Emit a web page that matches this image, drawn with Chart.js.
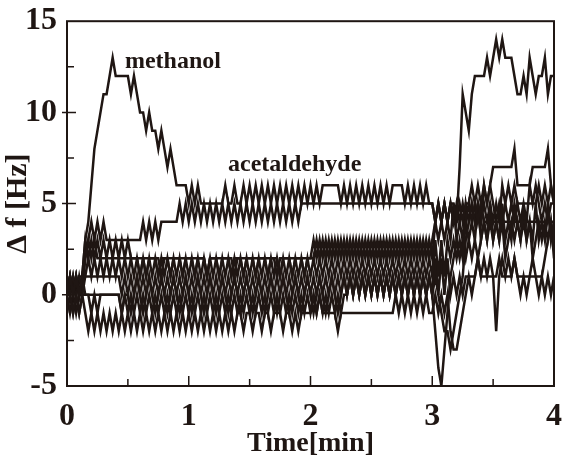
<!DOCTYPE html>
<html>
<head>
<meta charset="utf-8">
<script src="https://cdn.jsdelivr.net/npm/chart.js@4.4.1/dist/chart.umd.min.js"></script>
<style>
  html, body { margin: 0; padding: 0; background: #fff; }
  #wrap { width: 566px; height: 467px; }
</style>
</head>
<body>
<div id="wrap"><canvas id="sensorChart" width="566" height="467"></canvas></div>
<script>
// sampling times [min]
const sampleTimes = [
  0, 0.025, 0.05, 0.075, 0.1, 0.125, 0.15, 0.175, 0.2, 0.225, 0.25, 0.275, 0.3, 0.325, 0.35, 0.375, 0.4, 0.425, 0.45, 0.475,
  0.5, 0.525, 0.55, 0.575, 0.6, 0.625, 0.65, 0.675, 0.7, 0.725, 0.75, 0.775, 0.8, 0.825, 0.85, 0.875, 0.9, 0.925, 0.95, 0.975,
  1, 1.025, 1.05, 1.075, 1.1, 1.125, 1.15, 1.175, 1.2, 1.225, 1.25, 1.275, 1.3, 1.325, 1.35, 1.375, 1.4, 1.425, 1.45, 1.475,
  1.5, 1.525, 1.55, 1.575, 1.6, 1.625, 1.65, 1.675, 1.7, 1.725, 1.75, 1.775, 1.8, 1.825, 1.85, 1.875, 1.9, 1.925, 1.95, 1.975,
  2, 2.025, 2.05, 2.075, 2.1, 2.125, 2.15, 2.175, 2.2, 2.225, 2.25, 2.275, 2.3, 2.325, 2.35, 2.375, 2.4, 2.425, 2.45, 2.475,
  2.5, 2.525, 2.55, 2.575, 2.6, 2.625, 2.65, 2.675, 2.7, 2.725, 2.75, 2.775, 2.8, 2.825, 2.85, 2.875, 2.9, 2.925, 2.95, 2.975,
  3, 3.025, 3.05, 3.075, 3.1, 3.125, 3.15, 3.175, 3.2, 3.225, 3.25, 3.275, 3.3, 3.325, 3.35, 3.375, 3.4, 3.425, 3.45, 3.475,
  3.5, 3.525, 3.55, 3.575, 3.6, 3.625, 3.65, 3.675, 3.7, 3.725, 3.75, 3.775, 3.8, 3.825, 3.85, 3.875, 3.9, 3.925, 3.95, 3.975,
  4
];

// delta f [Hz] per sensor, one value per sample time
const methanol = [
  0, 1, 0, 1, 0, 1, 3, 4, 6, 8, 9, 10, 11, 11, 12, 13, 12, 12, 12, 12,
  12, 11, 12, 11, 10, 10, 9, 10, 9, 9, 8, 9, 8, 7, 8, 7, 6, 6, 6, 6,
  5, 6, 5, 6, 5, 5, 5, 5, 5, 5, 5, 5, 6, 5, 5, 6, 5, 5, 6, 5,
  6, 5, 6, 5, 6, 5, 6, 5, 6, 5, 6, 5, 6, 5, 6, 5, 6, 5, 6, 5,
  6, 5, 6, 5, 6, 6, 6, 6, 6, 6, 5, 6, 5, 6, 5, 6, 5, 6, 5, 6,
  5, 6, 5, 6, 5, 6, 5, 6, 6, 6, 6, 5, 6, 5, 6, 5, 6, 5, 6, 5,
  5, 4, 5, 4, 5, 4, 5, 4, 4, 7, 11, 10, 9, 11, 12, 12, 12, 12, 13, 12,
  13, 14, 13, 14, 13, 13, 13, 12, 11, 11, 12, 11, 13, 12, 11, 12, 12, 13, 11, 12,
  12
];
const acetaldehyde = [
  0, 0, -1, 0, -1, 0, 2, 3, 4, 3, 4, 3, 4, 3, 3, 3, 3, 3, 3, 3,
  3, 3, 3, 3, 3, 4, 3, 4, 3, 4, 3, 4, 4, 4, 4, 4, 4, 5, 4, 5,
  4, 5, 4, 5, 4, 5, 4, 5, 4, 5, 4, 5, 4, 5, 4, 5, 4, 5, 4, 5,
  4, 5, 4, 5, 4, 5, 4, 5, 4, 5, 4, 5, 4, 5, 4, 5, 4, 5, 5, 5,
  5, 5, 5, 5, 5, 5, 5, 5, 5, 5, 5, 5, 5, 5, 5, 5, 5, 5, 5, 5,
  5, 5, 5, 5, 5, 5, 5, 5, 5, 5, 5, 5, 5, 5, 5, 5, 5, 5, 5, 5,
  5, 4, 5, 4, 5, 4, 5, 5, 4, 5, 4, 5, 5, 6, 5, 6, 5, 6, 5, 6,
  7, 7, 7, 7, 7, 7, 7, 8, 6, 6, 6, 6, 6, 7, 7, 7, 7, 7, 8, 6,
  5
];
const sensor3 = [
  0, 1, 0, 1, 0, 1, 2, 3, 2, 3, 2, 2, 2, 2, 2, 2, 2, 2, 2, 2,
  2, 2, 2, 2, 1, 2, 2, 2, 2, 2, 2, 1, 2, 2, 2, 2, 2, 2, 2, 2,
  2, 2, 2, 2, 2, 2, 1, 2, 2, 2, 2, 2, 2, 2, 2, 1, 2, 2, 2, 2,
  2, 2, 2, 2, 2, 2, 2, 2, 2, 1, 2, 2, 2, 2, 2, 2, 2, 2, 2, 2,
  2, 2, 3, 2, 3, 2, 3, 2, 3, 2, 3, 2, 3, 2, 3, 2, 3, 2, 3, 2,
  3, 2, 3, 2, 3, 2, 3, 2, 3, 2, 3, 2, 3, 2, 3, 2, 3, 2, 3, 2,
  3, 4, 5, 4, 5, 4, 5, 4, 5, 4, 5, 4, 5, 4, 5, 4, 5, 4, 4, 4,
  4, 4, 4, 4, 4, 4, 4, 4, 4, 4, 4, 4, 4, 4, 4, 4, 4, 4, 4, 4,
  4
];
const sensor4 = [
  1, 0, 1, 0, 1, 0, 1, 2, 1, 2, 1, 2, 1, 2, 1, 2, 1, 2, 1, 2,
  1, 2, 1, 2, 1, 2, 1, 2, 1, 2, 1, 2, 1, 2, 1, 2, 1, 2, 1, 2,
  1, 2, 1, 2, 1, 2, 1, 2, 1, 2, 1, 2, 1, 2, 1, 2, 1, 2, 1, 2,
  1, 2, 1, 2, 1, 2, 1, 2, 1, 2, 1, 2, 1, 2, 1, 2, 1, 2, 1, 2,
  1, 2, 1, 2, 1, 2, 1, 2, 1, 2, 1, 2, 1, 2, 1, 2, 1, 2, 1, 2,
  1, 2, 1, 2, 1, 2, 1, 2, 1, 2, 1, 2, 1, 2, 1, 2, 1, 2, 1, 2,
  1, 3, 1, 3, 1, 3, 2, 3, 2, 3, 2, 4, 3, 4, 3, 5, 3, 4, 3, 5,
  3, 4, 3, 5, 3, 4, 3, 5, 4, 3, 5, 3, 4, 3, 5, 3, 4, 3, 5, 3,
  4
];
const sensor5 = [
  1, 0, 1, 0, 1, 1, 1, 1, 1, 1, 1, 1, 1, 1, 1, 1, 1, 1, 0, 1,
  0, 1, 0, 1, 0, 1, 0, 1, 0, 1, 0, 1, 0, 1, 0, 1, 0, 1, 0, 1,
  0, 1, 0, 1, 0, 1, 0, 1, 0, 1, 0, 1, 0, 1, 0, 1, 0, 1, 0, 1,
  0, 1, 0, 1, 0, 1, 0, 1, 0, 1, 0, 1, 0, 1, 0, 1, 0, 1, 0, 1,
  0, 1, 0, 1, 0, 1, 0, 1, 0, 1, 0, 1, 0, 1, 0, 1, 0, 1, 0, 1,
  0, 1, 0, 1, 0, 1, 0, 1, 0, 1, 0, 1, 0, 1, 0, 1, 0, 1, 0, 1,
  0, 2, 0, 2, 0, 2, 0, 1, 0, 1, 0, 1, 1, 1, 1, 2, 1, 1, 1, 1,
  1, 1, 2, 1, 1, 1, 1, 2, 1, 1, 1, 1, 1, 1, 1, 1, 1, 2, 3, 4,
  2
];
const sensor6 = [
  0, -1, 0, -1, 0, 0, 0, 0, 0, 0, 0, 0, 0, 0, 0, 0, 0, 0, -1, 0,
  -1, 0, -1, 0, -1, 0, -1, 0, -1, 0, -1, 0, -1, 0, -1, 0, -1, 0, -1, 0,
  -1, 0, -1, 0, -1, 0, -1, 0, -1, 0, -1, 0, -1, 0, -1, 0, -1, 0, -1, 0,
  -1, 0, -1, 0, -1, 0, -1, 0, -1, 0, -1, 0, -1, 0, -1, 0, -1, 0, -1, 0,
  -1, 0, -1, 0, -1, 0, -1, 0, -1, 0, -1, 0, 0, 1, 0, 1, 0, 1, 0, 1,
  0, 1, 0, 1, 0, 1, 0, 1, 0, 1, 0, 1, 0, 1, 0, 1, 0, 1, 0, 1,
  0, -2, -4, -5, -3, -1, 1, 2, 3, 2, 3, 2, 3, 2, 3, 2, 3, 4, 3, 4,
  3, 4, 3, 4, 2, 3, 4, 3, 4, 3, 4, 3, 4, 2, 3, 4, 3, 4, 3, 4,
  3
];
const sensor7 = [
  -1, 0, -1, 0, -1, 0, -1, -2, -1, -2, -1, -2, -1, -2, -1, -2, -1, -2, -1, -2,
  -1, -2, -1, -2, -1, -2, -1, -2, -1, -2, -1, -2, -1, -2, -1, -2, -1, -2, -1, -2,
  -1, -2, -1, -2, -1, -2, -1, -2, -1, -2, -1, -2, -1, -2, -1, -2, -1, -1, -2, -1,
  -1, -2, -1, -1, -2, -1, -1, -2, -1, -1, -1, -2, -1, -1, -2, -1, -2, -1, -1, -1,
  -1, 0, -1, 0, -1, -1, -1, -1, -1, -2, -1, -1, -1, -1, -1, -1, -1, -1, -1, -1,
  -1, -1, -1, -1, -1, -1, -1, -1, 0, -1, 0, -1, 0, -1, 0, -1, 0, -1, 0, -1,
  -1, 0, -1, 0, -1, 0, -2, -3, -3, -2, -1, 0, 1, 0, 1, 2, 1, 2, 1, 2,
  1, -2, 1, 2, 1, 2, 1, 2, 1, 0, 1, 0, 1, 2, 1, 0, 1, 0, 1, 0,
  1
];
const sensor8 = [
  0, 1, 0, 1, 0, 1, 0, 0, -1, 0, -1, 0, 0, 0, 0, 0, 0, 0, -1, 0,
  0, -1, 0, 1, 0, -1, 0, 1, 0, -1, 0, 1, 0, -1, 0, 1, 0, -1, 0, 1,
  0, -1, 0, 1, 0, -1, 0, 1, 0, -1, 0, 1, 0, -1, 0, 1, 0, -1, 0, 1,
  0, -1, 0, 1, 0, -1, 0, 1, 0, -1, 0, 1, 0, -1, 0, 1, 0, -1, 0, 1,
  0, -1, 0, 1, 0, -1, 0, 1, 0, -1, 0, 1, 0, 1, 0, 1, 0, 1, 0, 1,
  0, 1, 0, 1, 0, 1, 0, 1, 0, 1, 0, 1, 0, 1, 0, 1, 0, 1, 0, 1,
  0, 1, 0, -1, -2, -2, -3, -2, -1, 0, 1, 3, 4, 5, 4, 5, 4, 6, 5, 6,
  5, 4, 5, 4, 5, 4, 5, 4, 5, 4, 5, 4, 6, 5, 6, 5, 4, 5, 4, 5,
  5
];
const sensor9 = [
  0, 1, 0, 1, 0, 1, 3, 2, 3, 2, 3, 2, 3, 2, 3, 2, 3, 2, 3, 2,
  3, 2, 2, 2, 2, 2, 1, 2, 2, 2, 1, 2, 2, 2, 1, 2, 2, 2, 1, 2,
  2, 2, 1, 2, 2, 2, 1, 2, 2, 2, 1, 2, 2, 2, 1, 2, 2, 2, 1, 2,
  2, 2, 1, 2, 2, 2, 1, 2, 2, 2, 1, 2, 2, 2, 1, 2, 2, 2, 1, 2,
  2, 3, 2, 3, 2, 3, 2, 3, 2, 3, 2, 3, 2, 3, 2, 3, 2, 3, 2, 3,
  2, 3, 2, 3, 2, 3, 2, 3, 2, 3, 2, 3, 2, 3, 2, 3, 2, 3, 2, 3,
  2, 4, 3, 4, 3, 4, 3, 5, 3, 4, 3, 5, 4, 5, 4, 5, 4, 5, 4, 5,
  4, 5, 4, 6, 5, 6, 5, 6, 5, 5, 5, 5, 5, 5, 5, 6, 5, 6, 5, 6,
  5
];

const allSensors = [methanol, acetaldehyde, sensor3, sensor4, sensor5, sensor6, sensor7, sensor8, sensor9];
const curveLabels = [
  { text: 'methanol', t: 0.87, v: 12.8 },
  { text: 'acetaldehyde', t: 1.87, v: 7.15 }
];

const ink = '#1f1613';
const serif = "'Liberation Serif', 'Times New Roman', serif";

// frame, inward ticks and curve labels
const framePlugin = {
    id: 'frame',
    afterDraw(chart) {
        const ctx = chart.ctx;
        const a = chart.chartArea;
        const xs = chart.scales.x;
        const ys = chart.scales.y;
        ctx.save();
        ctx.strokeStyle = ink;
        ctx.lineWidth = 2;
        ctx.strokeRect(a.left, a.top, a.right - a.left, a.bottom - a.top);

        ctx.lineWidth = 1.5;
        ctx.beginPath();
        for (let t = 0.5; t < 4; t += 0.5) {
            const px = xs.getPixelForValue(t);
            const len = Number.isInteger(t) ? 10 : 7;
            ctx.moveTo(px, a.bottom);
            ctx.lineTo(px, a.bottom - len);
        }
        for (let v = -2.5; v < 15; v += 2.5) {
            const py = ys.getPixelForValue(v);
            const major = v % 5 === 0;
            ctx.moveTo(a.left - (major ? 5 : 0), py);
            ctx.lineTo(a.left + (major ? 9 : 7), py);
        }
        ctx.stroke();

        ctx.fillStyle = ink;
        ctx.font = 'bold 24px ' + serif;
        ctx.textAlign = 'center';
        ctx.textBaseline = 'middle';
        curveLabels.forEach(l => {
            ctx.fillText(l.text, xs.getPixelForValue(l.t), ys.getPixelForValue(l.v));
        });
        ctx.restore();
    }
};

const ctx = document.getElementById('sensorChart').getContext('2d');
new Chart(ctx, {
    type: 'line',
    data: {
        datasets: allSensors.map(vals => ({
            data: sampleTimes.map((t, i) => ({ x: t, y: vals[i] })),
            borderColor: ink,
            borderWidth: 2.5,
            pointRadius: 0,
            tension: 0,
            fill: false
        }))
    },
    options: {
        responsive: false,
        animation: false,
        layout: { padding: { top: 16, right: 8, left: 0, bottom: 0 } },
        plugins: {
            legend: { display: false },
            tooltip: { enabled: false }
        },
        scales: {
            x: {
                type: 'linear',
                min: 0,
                max: 4,
                grid: { display: false },
                border: { display: false },
                afterFit: s => { s.height = 81; },
                ticks: {
                    stepSize: 1,
                    padding: 4,
                    color: ink,
                    maxRotation: 0,
                    font: { family: serif, size: 32, weight: 'bold' }
                },
                title: {
                    display: true,
                    text: 'Time[min]',
                    color: ink,
                    padding: { top: 0, bottom: 6 },
                    font: { family: serif, size: 28, weight: 'bold' }
                }
            },
            y: {
                min: -5,
                max: 15,
                grid: { display: false },
                border: { display: false },
                afterFit: s => { s.width = 67; },
                ticks: {
                    stepSize: 5,
                    padding: 2,
                    color: ink,
                    font: { family: serif, size: 32, weight: 'bold' }
                },
                title: {
                    display: true,
                    text: 'Δ f [Hz]',
                    color: ink,
                    padding: { top: 0, bottom: 4 },
                    font: { family: serif, size: 30, weight: 'bold' }
                }
            }
        }
    },
    plugins: [framePlugin]
});
</script>
</body>
</html>
